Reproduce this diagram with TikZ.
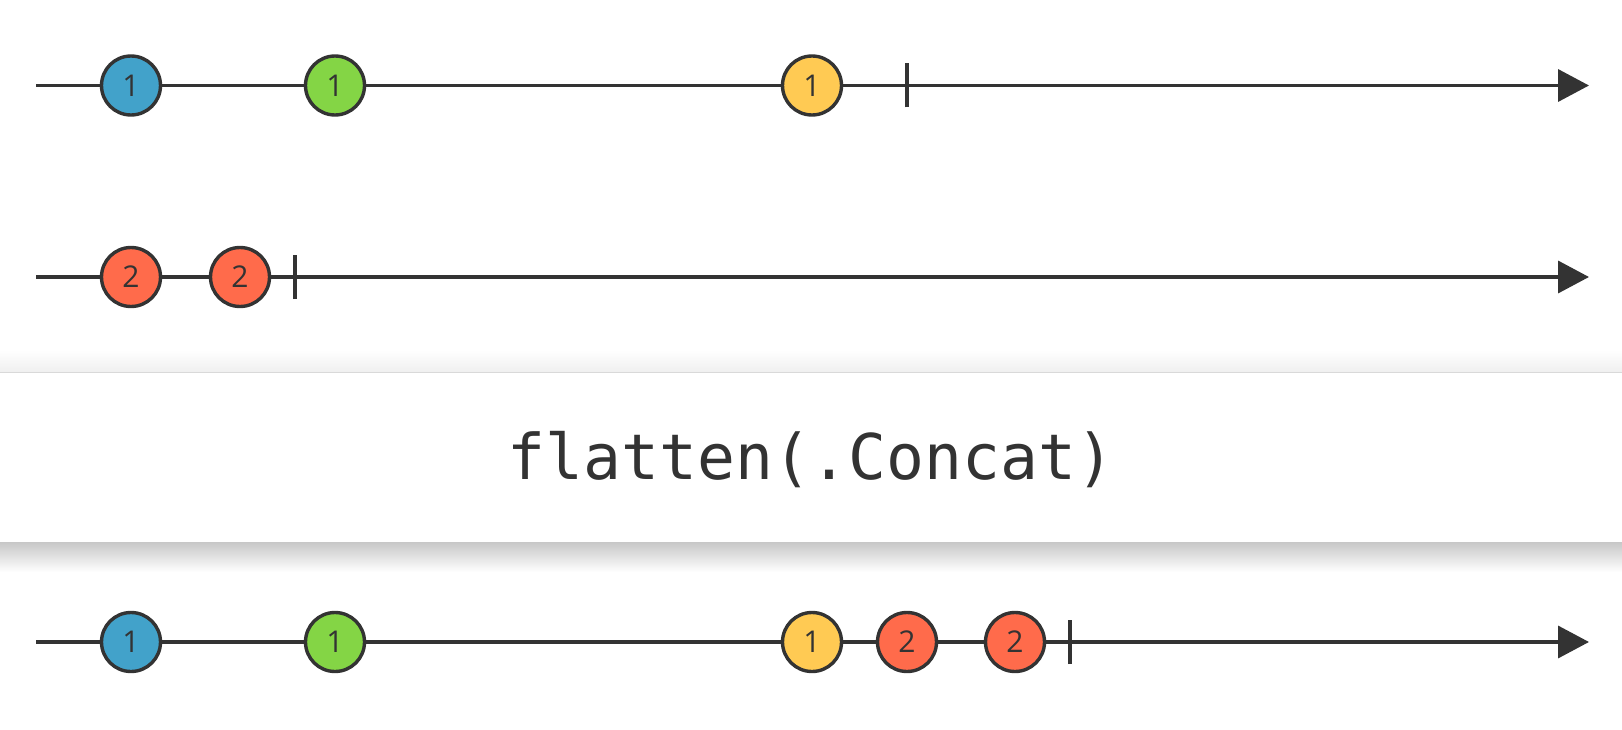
\documentclass[tikz,border=0pt]{standalone}
\usepackage{fontspec}
\setmainfont{Open Sans}
\newfontfamily\codefont{DejaVu Sans Mono}
\usetikzlibrary{arrows.meta}
\definecolor{ink}{HTML}{333333}
\definecolor{mblue}{HTML}{42A2CA}
\definecolor{mgreen}{HTML}{84D545}
\definecolor{myellow}{HTML}{FFCA53}
\definecolor{mred}{HTML}{FF6B4B}
\tikzset{
  timeline/.style={draw=ink, line width=3.6pt, -{Triangle[length=31pt,width=32pt]}},
  marble/.style={circle, draw=ink, line width=3.4pt, minimum size=59pt, inner sep=0pt,
     font=\fontsize{30}{32}\selectfont, text=ink},
  endtick/.style={draw=ink, line width=3.8pt},
}
\begin{document}
\begin{tikzpicture}[x=1pt,y=-1pt]
\useasboundingbox (0,0) rectangle (1622,730);
\fill[white] (0,0) rectangle (1622,730);
% operator box with shadow
\shade[top color=white, bottom color=black!6] (0,350) rectangle (1622,372);
\shade[top color=black!22, bottom color=white] (0,542) rectangle (1622,572);
\fill[white] (0,372) rectangle (1622,542);
\draw[black!15, line width=1pt] (0,372) -- (1622,372);
\node[font=\codefont\fontsize{63}{70}\selectfont, text=ink] (op) at (811,460) {flatten(.Concat)};

% line 1
\coordinate (s1) at (36,85.5);
\coordinate (e1) at (1589,85.5);
\draw[timeline] (s1) -- (e1);
\coordinate (t1) at (907,85.5);
\draw[endtick] ([yshift=-22pt]t1) -- ([yshift=22pt]t1);
\node[marble, fill=mblue] (a1) at (131,85.5) {1};
\node[marble, fill=mgreen] (b1) at (335,85.5) {1};
\node[marble, fill=myellow] (c1) at (812,85.5) {1};

% line 2
\coordinate (s2) at (36,277);
\coordinate (e2) at (1589,277);
\draw[timeline] (s2) -- (e2);
\coordinate (t2) at (295,277);
\draw[endtick] ([yshift=-22pt]t2) -- ([yshift=22pt]t2);
\node[marble, fill=mred] (a2) at (131,277) {2};
\node[marble, fill=mred] (b2) at (240,277) {2};

% result line
\coordinate (s3) at (36,642);
\coordinate (e3) at (1589,642);
\draw[timeline] (s3) -- (e3);
\coordinate (t3) at (1070,642);
\draw[endtick] ([yshift=-22pt]t3) -- ([yshift=22pt]t3);
\node[marble, fill=mblue] (r1) at (131,642) {1};
\node[marble, fill=mgreen] (r2) at (335,642) {1};
\node[marble, fill=myellow] (r3) at (812,642) {1};
\node[marble, fill=mred] (r4) at (907,642) {2};
\node[marble, fill=mred] (r5) at (1015,642) {2};
\end{tikzpicture}
\end{document}
